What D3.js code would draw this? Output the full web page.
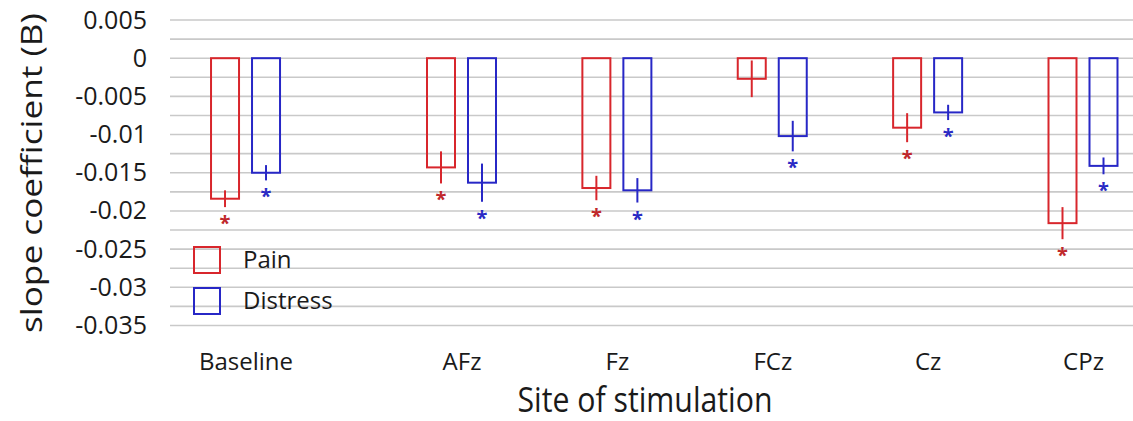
<!DOCTYPE html>
<html>
<head>
<meta charset="utf-8">
<script src="https://cdn.jsdelivr.net/npm/d3@7"></script>
<style>
  body { margin: 0; background: #fff; }
  svg { display: block; font-family: 'Open Sans', sans-serif; }
</style>
</head>
<body>
<div id="chart"></div>
<script>
const sites = ['Baseline', 'AFz', 'Fz', 'FCz', 'Cz', 'CPz']
const series = ['Pain', 'Distress']
const painValues = [-0.0184, -0.0143, -0.0170, -0.0027, -0.0091, -0.0216]
const painErrors = [0.0011, 0.0021, 0.0016, 0.0024, 0.0019, 0.0021]
const painSignificant = [true, true, true, false, true, true]
const distressValues = [-0.0150, -0.0163, -0.0173, -0.0102, -0.0071, -0.0141]
const distressErrors = [0.0010, 0.0025, 0.0016, 0.0020, 0.0010, 0.0011]
const distressSignificant = [true, true, true, true, true, true]
const yTicks = [0.005, 0, -0.005, -0.01, -0.015, -0.02, -0.025, -0.03, -0.035]
const yTickLabels = ['0.005', '0', '-0.005', '-0.01', '-0.015', '-0.02', '-0.025', '-0.03', '-0.035']

const COLORS = { Pain: '#d8262c', Distress: '#2727c6' }
const STAR_COLORS = { Pain: '#c0282c', Distress: '#2a2ac4' }

const W = 1133, H = 421
const BASELINE_GAP = 1.39 // Baseline sits further left than the regular site spacing

const svg = d3.select('#chart').append('svg').attr('width', W).attr('height', H)

const y = d3.scaleLinear().domain([-0.035, 0.005]).range([325.5, 20])
const slot = d3.scaleLinear().domain([1, 5]).range([461.5, 1083])
const siteX = d3.scaleOrdinal().domain(sites).range(sites.map((s, i) => slot(i === 0 ? 1 - BASELINE_GAP : i)))
const inner = d3.scaleBand().domain(series).range([-34.5, 34.5]).paddingInner(0.317)

// Gridlines every 0.0025
svg.append('g').selectAll('line')
  .data(d3.range(-0.035, 0.0051, 0.0025))
  .join('line')
  .attr('x1', 170).attr('x2', W)
  .attr('y1', d => y(d)).attr('y2', d => y(d))
  .attr('stroke', '#c9c9c9').attr('stroke-width', 1.6)

// Y axis labels
const yAxis = svg.append('g').attr('transform', 'translate(157,0)')
  .call(d3.axisLeft(y).tickValues(yTicks).tickSize(0).tickPadding(10).tickFormat((d, i) => yTickLabels[i]))
yAxis.select('.domain').remove()
yAxis.selectAll('text').attr('font-size', 25).attr('fill', '#1a1a1a').attr('font-family', 'Open Sans, sans-serif')

svg.append('text')
  .attr('transform', `translate(42,${(13 + 333) / 2}) rotate(-90)`)
  .attr('text-anchor', 'middle')
  .attr('font-size', 30).attr('fill', '#1a1a1a')
  .attr('textLength', 320).attr('lengthAdjust', 'spacingAndGlyphs')
  .text('slope coefficient (B)')

// X axis labels
const xAxis = svg.append('g').attr('transform', 'translate(0,370)')
  .call(d3.axisBottom(siteX).tickSize(0).tickPadding(0))
xAxis.select('.domain').remove()
xAxis.selectAll('text').attr('font-size', 24).attr('fill', '#1a1a1a').attr('font-family', 'Open Sans, sans-serif').attr('dy', 0)

svg.append('text')
  .attr('x', 645).attr('y', 412)
  .attr('text-anchor', 'middle')
  .attr('font-size', 34).attr('fill', '#1a1a1a')
  .attr('textLength', 255).attr('lengthAdjust', 'spacingAndGlyphs')
  .text('Site of stimulation')

// Bars
const rows = []
sites.forEach((site, i) => {
  rows.push({ site, key: 'Pain', value: painValues[i], err: painErrors[i], sig: painSignificant[i] })
  rows.push({ site, key: 'Distress', value: distressValues[i], err: distressErrors[i], sig: distressSignificant[i] })
})

const bars = svg.append('g').selectAll('g').data(rows).join('g')
  .attr('transform', d => `translate(${siteX(d.site) + inner(d.key)},0)`)

bars.append('rect')
  .attr('x', 0).attr('width', inner.bandwidth())
  .attr('y', y(0)).attr('height', d => y(d.value) - y(0))
  .attr('fill', 'none').attr('stroke', d => COLORS[d.key]).attr('stroke-width', 2)

bars.append('line')
  .attr('x1', inner.bandwidth() / 2).attr('x2', inner.bandwidth() / 2)
  .attr('y1', d => y(d.value + d.err)).attr('y2', d => y(d.value - d.err))
  .attr('stroke', d => COLORS[d.key]).attr('stroke-width', 2)

bars.filter(d => d.sig).append('text')
  .attr('x', inner.bandwidth() / 2)
  .attr('y', d => y(d.value - d.err) + 23)
  .attr('text-anchor', 'middle')
  .attr('font-size', 20).attr('font-weight', 'bold')
  .attr('fill', d => STAR_COLORS[d.key])
  .text('*')

// Legend
const legend = svg.append('g').attr('transform', 'translate(194,247)')
series.forEach((s, i) => {
  const g = legend.append('g').attr('transform', `translate(0,${i * 41})`)
  g.append('rect').attr('width', 26).attr('height', 26)
    .attr('fill', 'none').attr('stroke', COLORS[s]).attr('stroke-width', 2)
  g.append('text').attr('x', 49).attr('y', 13).attr('dy', '0.35em')
    .attr('font-size', 24).attr('fill', '#1a1a1a').text(s)
})
</script>
</body>
</html>
